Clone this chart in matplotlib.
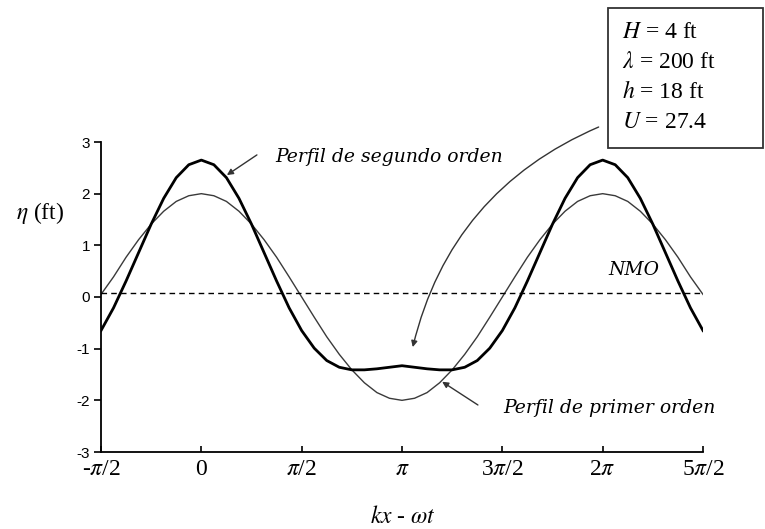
import numpy as np
import matplotlib
matplotlib.use("Agg")
import matplotlib.pyplot as plt
from matplotlib.patches import Rectangle

plt.rcParams['mathtext.fontset'] = 'stix'

# phase (in units of pi), step pi/16
phase_pi = [-0.5, -0.4375, -0.375, -0.3125, -0.25, -0.1875, -0.125, -0.0625,
            0.0, 0.0625, 0.125, 0.1875, 0.25, 0.3125, 0.375, 0.4375,
            0.5, 0.5625, 0.625, 0.6875, 0.75, 0.8125, 0.875, 0.9375,
            1.0, 1.0625, 1.125, 1.1875, 1.25, 1.3125, 1.375, 1.4375,
            1.5, 1.5625, 1.625, 1.6875, 1.75, 1.8125, 1.875, 1.9375,
            2.0, 2.0625, 2.125, 2.1875, 2.25, 2.3125, 2.375, 2.4375, 2.5]

first_order = [0.05, 0.39, 0.77, 1.11, 1.41, 1.66, 1.85, 1.96,
               2.00, 1.96, 1.85, 1.66, 1.41, 1.11, 0.77, 0.39,
               0.00, -0.39, -0.77, -1.11, -1.41, -1.66, -1.85, -1.96,
               -2.00, -1.96, -1.85, -1.66, -1.41, -1.11, -0.77, -0.39,
               0.00, 0.39, 0.77, 1.11, 1.41, 1.66, 1.85, 1.96,
               2.00, 1.96, 1.85, 1.66, 1.41, 1.11, 0.77, 0.39, 0.05]

second_order = [-0.65, -0.21, 0.31, 0.86, 1.41, 1.91, 2.31, 2.56,
                2.65, 2.56, 2.31, 1.91, 1.41, 0.86, 0.31, -0.21,
                -0.65, -0.99, -1.23, -1.36, -1.41, -1.41, -1.39, -1.36,
                -1.33, -1.36, -1.39, -1.41, -1.41, -1.36, -1.23, -0.99,
                -0.65, -0.21, 0.31, 0.86, 1.41, 1.91, 2.31, 2.56,
                2.65, 2.56, 2.31, 1.91, 1.41, 0.86, 0.31, -0.21, -0.65]

nmo_level = 0.08

xtick_pi = [-0.5, 0.0, 0.5, 1.0, 1.5, 2.0, 2.5]
xtick_labels = [r'-$\pi$/2', '0', r'$\pi$/2', r'$\pi$', r'3$\pi$/2', r'2$\pi$', r'5$\pi$/2']
yticks = [-3, -2, -1, 0, 1, 2, 3]

params = [r'$H$ = 4 ft', r'$\lambda$ = 200 ft', r'$h$ = 18 ft', r'$U$ = 27.4']

W, H = 765, 529
fig = plt.figure(figsize=(W / 100, H / 100), dpi=100)
ax = fig.add_axes([101 / W, 1 - 452 / H, 602 / W, 310 / H])

x = np.array(phase_pi) * np.pi
ax.plot(x, first_order, color='#3a3a3a', lw=1.0)
ax.plot(x, second_order, color='black', lw=2.0)
ax.plot([x[0], x[-1]], [nmo_level, nmo_level], color='black', lw=1.0,
        linestyle=(0, (4, 3)))

ax.set_xlim(-np.pi / 2, 5 * np.pi / 2)
ax.set_ylim(-3, 3)
ax.set_xticks(np.array(xtick_pi) * np.pi)
ax.set_xticklabels(xtick_labels, fontsize=17, family='Liberation Serif')
ax.set_yticks(yticks)
ax.set_yticklabels([str(v) for v in yticks], fontsize=11,
                   family='Liberation Sans')
ax.tick_params(axis='x', direction='in', length=4, width=1.2, pad=5)
ax.tick_params(axis='y', direction='out', length=5, width=1.2, pad=3)
for s in ['top', 'right']:
    ax.spines[s].set_visible(False)
for s in ['left', 'bottom']:
    ax.spines[s].set_linewidth(1.3)

ax.text(-0.101, 0.771, r'$\eta$ (ft)', transform=ax.transAxes, fontsize=17,
        family='Liberation Serif', ha='center', va='center')
ax.text(0.502, -0.21, r'$kx$ - $\omega t$', transform=ax.transAxes, fontsize=17,
        family='Liberation Serif', ha='center', va='center')

afont = dict(family='DejaVu Serif', style='italic', fontsize=13.5)
ax.annotate('', xy=(0.40, 2.36), xytext=(0.87, 2.75),
            arrowprops=dict(arrowstyle='-|>', color='#333333', lw=1.0,
                            mutation_scale=9, shrinkA=0, shrinkB=0))
ax.text(1.15, 2.71, 'Perfil de segundo orden', va='center', ha='left', **afont)

ax.annotate('', xy=(3.77, -1.64), xytext=(4.33, -2.09),
            arrowprops=dict(arrowstyle='-|>', color='#333333', lw=1.0,
                            mutation_scale=9, shrinkA=0, shrinkB=0))
ax.text(4.72, -2.15, 'Perfil de primer orden', va='center', ha='left', **afont)

ax.text(6.37, 0.52, 'NMO', va='center', ha='left', **afont)

ax.annotate('', xy=(3.31, -0.97), xytext=(6.22, 3.29),
            arrowprops=dict(arrowstyle='-|>', color='#333333', lw=1.0,
                            mutation_scale=9, shrinkA=0, shrinkB=0,
                            connectionstyle='arc3,rad=0.25'),
            annotation_clip=False)

# parameter box
fig.patches.append(Rectangle((608 / W, 1 - 148 / H), 155 / W, 140 / H,
                             transform=fig.transFigure, fill=False,
                             edgecolor='#333333', lw=1.3))
for i, t in enumerate(params):
    fig.text(622 / W, 1 - (32 + 30 * i) / H, t, fontsize=17, va='center',
             ha='left', family='Liberation Serif')

fig.savefig('out.png', dpi=100)
